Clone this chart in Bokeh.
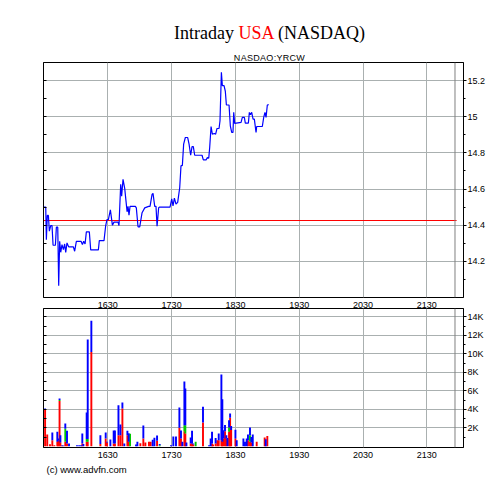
from bokeh.plotting import figure
from bokeh.models import (Range1d, LinearAxis, FixedTicker, Grid, Span, Div, Title,
                          CustomJSTickFormatter, ColumnDataSource)
from bokeh.layouts import column
from bokeh.embed import file_html
from bokeh.resources import INLINE

# ---------------- data ----------------
title_main = "Intraday"
title_country = "USA"
title_exchange = "(NASDAQ)"
symbol = "NASDAQ:YRCW"
credit = "(c) www.advfn.com"

# minutes after 15:30
price_minutes = [
    0.0, 1.6, 2.2, 3.1, 4.1, 5.0, 6.3, 7.5, 8.5, 10.7,
    11.6, 12.9, 13.8, 14.7, 15.7, 16.9, 18.2, 19.4, 20.4, 21.6,
    23.2, 27.6, 28.8, 30.4, 34.8, 36.1, 37.3, 38.6, 39.8, 42.6,
    43.9, 51.1, 52.0, 56.4, 58.0, 59.2, 60.5, 62.4, 64.3, 65.8,
    69.6, 70.5, 72.1, 73.0, 74.3, 75.9, 77.1, 78.1, 79.0, 79.9,
    80.9, 85.9, 86.8, 88.4, 90.0, 92.2, 94.7, 98.4, 99.7, 101.6,
    102.5, 104.1, 105.3, 106.3, 107.8, 108.8, 118.5, 120.1, 121.3, 122.6,
    124.1, 125.7, 127.6, 128.8, 130.1, 131.3, 132.9, 135.1, 136.4, 137.9,
    139.2, 140.4, 141.7, 148.6, 149.8, 152.4, 153.6, 154.9, 155.8, 157.1,
    158.3, 160.2, 161.4, 162.7, 164.6, 165.5, 166.8, 167.7, 169.3, 170.5,
    171.5, 174.0, 175.2, 176.5, 177.7, 178.4, 179.3, 185.3, 186.5, 188.4,
    189.3, 192.2, 193.1, 194.0, 195.3, 196.6, 197.8, 199.4, 200.0, 205.3,
    206.6, 207.8, 208.8, 210.0, 211.3,
]
price_values = [
    14.50, 14.50, 14.32, 14.454, 14.454, 14.367, 14.398, 14.398, 14.289, 14.289,
    14.389, 14.389, 14.065, 14.311, 14.25, 14.293, 14.265, 14.296, 14.25, 14.302,
    14.28, 14.28, 14.256, 14.311, 14.311, 14.293, 14.311, 14.296, 14.363, 14.363,
    14.263, 14.263, 14.315, 14.315, 14.398, 14.431, 14.431, 14.485, 14.40, 14.417,
    14.417, 14.398, 14.626, 14.561, 14.654, 14.602, 14.533, 14.474, 14.504, 14.456,
    14.504, 14.504, 14.496, 14.391, 14.391, 14.469, 14.496, 14.504, 14.504, 14.57,
    14.576, 14.504, 14.504, 14.394, 14.496, 14.50, 14.50, 14.546, 14.507, 14.55,
    14.517, 14.526, 14.607, 14.728, 14.731, 14.848, 14.885, 14.885, 14.848, 14.787,
    14.835, 14.835, 14.787, 14.787, 14.761, 14.761, 14.774, 14.770, 14.83, 14.946,
    14.904, 14.907, 14.904, 14.935, 14.935, 14.978, 15.246, 15.172, 15.172, 15.141,
    15.065, 15.065, 14.95, 14.913, 14.913, 15.024, 14.963, 14.969, 14.996, 14.996,
    14.965, 14.965, 15.024, 15.011, 15.024, 14.987, 14.987, 14.913, 14.946, 14.946,
    14.996, 15.024, 14.996, 15.065, 15.067,
]

vol_minutes = [
    1, 3, 5.6, 7.8, 9.7, 12.5, 13.3, 14.6, 15.4, 16.9,
    18.2, 20, 21.6, 23.5, 31, 33, 34.8, 36, 37, 40.1,
    41.1, 44.5, 53, 58, 59.2, 62.4, 65.5, 66.7, 70, 71.8,
    73.7, 75.5, 78.4, 79.6, 80.9, 86.5, 87.8, 90.6, 93.4, 95.3,
    98.7, 100.3, 102.2, 103.8, 106.3, 108.8, 119.4, 121.6, 124.1, 127.3,
    128.8, 130.1, 132, 132.9, 133.9, 137.9, 139.2, 140.4, 142.6, 149.5,
    155.2, 156.7, 158, 159, 161.4, 163, 164.3, 166.8, 167.7, 168.7,
    170.2, 171.5, 172.5, 174, 175, 176, 180, 181.2, 187.5, 189,
    190.6, 191.8, 193.7, 195, 196.3, 200, 207.5, 208.5, 210,
]
vol_red = [
    4000, 1280, 230, 660, 100, 480, 600, 4900, 400, 60,
    0, 500, 300, 0, 0, 0, 0, 300, 0, 480,
    480, 10200, 250, 850, 400, 0, 300, 300, 1200, 1200,
    4100, 0, 1200, 480, 0, 0, 0, 330, 840, 400,
    480, 480, 0, 0, 600, 0, 0, 0, 0, 2000,
    850, 0, 1630, 1380, 0, 300, 300, 200, 0, 2580,
    0, 0, 300, 200, 300, 660, 660, 660, 480, 850,
    1630, 850, 0, 1570, 3080, 1750, 850, 0, 0, 0,
    0, 660, 480, 400, 0, 480, 950, 0, 1100,
]
vol_green = [
    0, 0, 0, 0, 0, 0, 0, 100, 0, 0,
    0, 1400, 0, 0, 0, 0, 0, 0, 0, 300,
    300, 0, 0, 0, 0, 0, 0, 0, 0, 0,
    0, 0, 0, 0, 1350, 0, 0, 0, 0, 0,
    0, 0, 0, 0, 0, 100, 0, 0, 0, 0,
    0, 0, 650, 900, 0, 0, 0, 0, 480, 0,
    0, 0, 0, 0, 0, 0, 0, 0, 0, 0,
    0, 0, 0, 450, 0, 0, 0, 0, 0, 0,
    0, 0, 720, 0, 0, 0, 0, 0, 0,
]
vol_blue = [
    100, 0, 0, 840, 0, 1090, 250, 170, 800, 60,
    80, 570, 1370, 300, 120, 120, 100, 1080, 250, 2870,
    10770, 3370, 950, 650, 100, 740, 1400, 1400, 3250, 1160,
    630, 300, 470, 920, 0, 200, 480, 0, 1410, 0,
    0, 0, 700, 920, 570, 150, 120, 1060, 1060, 2200,
    850, 480, 4720, 3970, 400, 650, 1370, 100, 0, 1690,
    120, 850, 1270, 0, 600, 0, 720, 7110, 4620, 890,
    670, 350, 900, 810, 470, 450, 950, 660, 850, 480,
    850, 620, 830, 600, 1280, 0, 0, 770, 0,
]

time_ticks = [60, 120, 180, 240, 300, 360]
time_labels = ["1630", "1730", "1830", "1930", "2030", "2130"]
price_ticks = [14.2, 14.4, 14.6, 14.8, 15.0, 15.2]
price_labels = ["14.2", "14.4", "14.6", "14.8", "15", "15.2"]
price_minor = [14.1, 14.3, 14.5, 14.7, 14.9, 15.1]
vol_ticks = [2000, 4000, 6000, 8000, 10000, 12000, 14000]
vol_labels = ["2K", "4K", "6K", "8K", "10K", "12K", "14K"]
vol_minor = [1000, 3000, 5000, 7000, 9000, 11000, 13000]
prev_close = 14.426
session_end = 386.5

# ---------------- styling ----------------
FONT = "Liberation Sans"
GRID = "#aab0b0"
X_START, X_END = -0.5, 394.5
LEFT = 43


def base_fig(height, y_range, top, bottom):
    f = figure(frame_width=420, frame_height=height,
               x_range=Range1d(X_START, X_END), y_range=y_range,
               x_axis_location=None, y_axis_location=None,
               output_backend="svg", toolbar_location=None,
               min_border_left=LEFT, min_border_right=0,
               min_border_top=top, min_border_bottom=bottom,
               outline_line_color="black", outline_line_width=1,
               background_fill_color="white", border_fill_color="white")
    f.grid.visible = False
    return f


def add_y_axes(f, ticks, minor, labels):
    f.add_layout(Grid(dimension=1, ticker=FixedTicker(ticks=ticks),
                      grid_line_color=GRID, grid_line_width=1))
    f.add_layout(Grid(dimension=0, ticker=FixedTicker(ticks=time_ticks),
                      grid_line_color=GRID, grid_line_width=1))
    ra = LinearAxis(ticker=FixedTicker(ticks=ticks, minor_ticks=minor),
                    major_label_overrides={t: l for t, l in zip(ticks, labels)},
                    major_tick_out=3, major_tick_in=0,
                    minor_tick_out=2, minor_tick_in=0,
                    major_label_standoff=1,
                    axis_line_color="black", major_tick_line_color="black",
                    minor_tick_line_color="black",
                    major_label_text_font=FONT, major_label_text_font_size="9px",
                    major_label_text_color="black")
    f.add_layout(ra, "right")
    la = LinearAxis(ticker=FixedTicker(ticks=ticks, minor_ticks=minor),
                    formatter=CustomJSTickFormatter(code="return ''"),
                    major_tick_out=0, major_tick_in=3,
                    minor_tick_out=0, minor_tick_in=3,
                    major_label_standoff=0,
                    axis_line_color="black", major_tick_line_color="black",
                    minor_tick_line_color="black")
    f.add_layout(la, "left")
    f.add_layout(Span(location=session_end, dimension="height",
                      line_color="#808080", line_width=1))


def time_axis(place_standoff):
    return LinearAxis(ticker=FixedTicker(ticks=time_ticks),
                      major_label_overrides={t: l for t, l in zip(time_ticks, time_labels)},
                      major_tick_out=0, major_tick_in=0, minor_tick_out=0, minor_tick_in=0,
                      major_label_standoff=place_standoff,
                      axis_line_color=None,
                      major_label_text_font=FONT, major_label_text_font_size="9px",
                      major_label_text_color="black")


# ---------------- header ----------------
header_html = (
    '<div style="margin-left:51px;width:437px;text-align:center;">'
    '<div style="font-family:\'Liberation Serif\';font-size:18px;line-height:21px;'
    'padding-top:23px;color:#000;white-space:nowrap;">'
    f'{title_main} <span style="color:#ff0000;">{title_country}</span> {title_exchange}</div>'
    '<div style="font-family:\'Liberation Sans\';font-size:9px;line-height:11px;'
    f'margin-top:9px;color:#000;letter-spacing:0.3px;">{symbol}</div>'
    '</div>'
)
header = Div(text=header_html, width=488, height=60, margin=0)

# ---------------- price panel ----------------
p = base_fig(235, Range1d(14.0, 15.3), 2, 1)
add_y_axes(p, price_ticks, price_minor, price_labels)
p.segment(x0=[X_START], x1=[session_end + 1.5], y0=[prev_close], y1=[prev_close],
          line_color="#ff0000", line_width=1.2)
p.line(price_minutes, price_values, line_color="#0000ff", line_width=1.2)

# ---------------- volume panel ----------------
v = base_fig(139, Range1d(-130, 14900), 0, 0)
add_y_axes(v, vol_ticks, vol_minor, vol_labels)
v.add_layout(time_axis(1), "above")
v.add_layout(time_axis(4), "below")
src = ColumnDataSource(dict(t=vol_minutes, red=vol_red, green=vol_green, blue=vol_blue))
v.vbar_stack(["red", "green", "blue"], x="t", width=1.8, source=src,
             fill_color=["#ff0000", "#00c800", "#0000ff"], line_color=None)
v.add_layout(Title(text=credit, align="left", offset=3, standoff=2,
                   text_font=FONT, text_font_size="9.5px", text_font_style="normal",
                   text_color="black"), "below")

layout = column(header, p, v, spacing=0)
open("out.html", "w").write(file_html(layout, INLINE))
